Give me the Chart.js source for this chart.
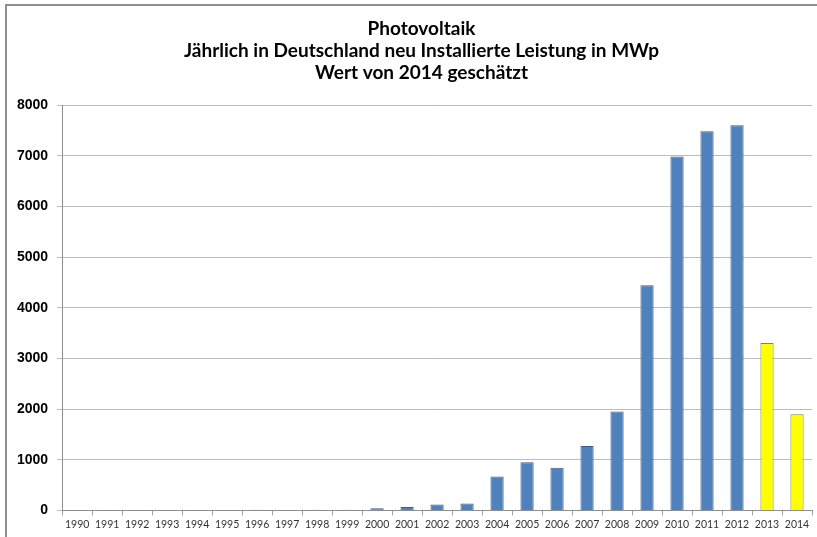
<!DOCTYPE html>
<html><head><meta charset="utf-8">
<script src="https://cdn.jsdelivr.net/npm/chart.js@4/dist/chart.umd.min.js"></script>
<style>
html,body{margin:0;padding:0;background:#fff;}
#wrap{position:relative;width:817px;height:537px;overflow:hidden;}
#frame{position:absolute;left:5px;top:4px;width:900px;height:600px;border-top:2px solid #8e8e8e;border-left:2px solid #8e8e8e;pointer-events:none;}
canvas{position:absolute;left:0;top:0;}
</style></head><body>
<div id="wrap"><canvas id="c" width="817" height="537"></canvas><div id="frame"></div></div>
<script>
const years = ["1990","1991","1992","1993","1994","1995","1996","1997","1998","1999","2000","2001","2002","2003","2004","2005","2006","2007","2008","2009","2010","2011","2012","2013","2014"];
const installedMWp = [0,1,3,4,5,7,12,10,12,12,40,66,118,138,670,951,843,1271,1950,4446,6988,7485,7604,3304,1900];
const estimatedFlag = [0,0,0,0,0,0,0,0,0,0,0,0,0,0,0,0,0,0,0,0,0,0,0,1,1];
const titleLines = ["Photovoltaik","Jährlich in Deutschland neu Installierte Leistung in MWp","Wert von 2014 geschätzt"];

const fill = estimatedFlag.map(f => f ? "#FFFF00" : "#4F81BD");
const stroke = estimatedFlag.map(f => f ? "#8a8a1e" : "#385D8A");

const titleShift = {
  id: "titleShift",
  afterLayout(chart) {
    const t = chart.titleBlock;
    if (t) { t.left = 26; t.right = 817; }
  }
};

new Chart(document.getElementById("c"), {
  type: "bar",
  data: { labels: years, datasets: [{ data: installedMWp, backgroundColor: fill, borderColor: stroke, borderWidth: 1, barPercentage: 0.44, categoryPercentage: 1 }] },
  plugins: [titleShift],
  options: {
    responsive: false, animation: false,
    layout: { padding: { left: 8, right: 5, top: 0, bottom: 3 } },
    plugins: {
      legend: { display: false }, tooltip: { enabled: false },
      title: { display: true, text: titleLines, color: "#000", font: { family: "Lato", size: 19, weight: "bold", lineHeight: 1.16 }, padding: { top: 18, bottom: 21 } }
    },
    scales: {
      x: {
        grid: { display: true, drawOnChartArea: false, drawTicks: true, tickLength: 5, color: "#a0a0a0", offset: true },
        border: { color: "#8e8e8e" },
        ticks: { color: "#333", font: { family: "Lato", size: 10.5 }, padding: 3, maxRotation: 0, autoSkip: false }
      },
      y: {
        min: 0, max: 8000,
        grid: { color: "#bdbdbd", tickLength: 5, drawTicks: true },
        border: { color: "#8e8e8e" },
        ticks: { stepSize: 1000, color: "#000", padding: 9, font: { family: "Liberation Sans", size: 14, weight: "bold" }, callback: v => String(v) }
      }
    }
  }
});
</script>
</body></html>
